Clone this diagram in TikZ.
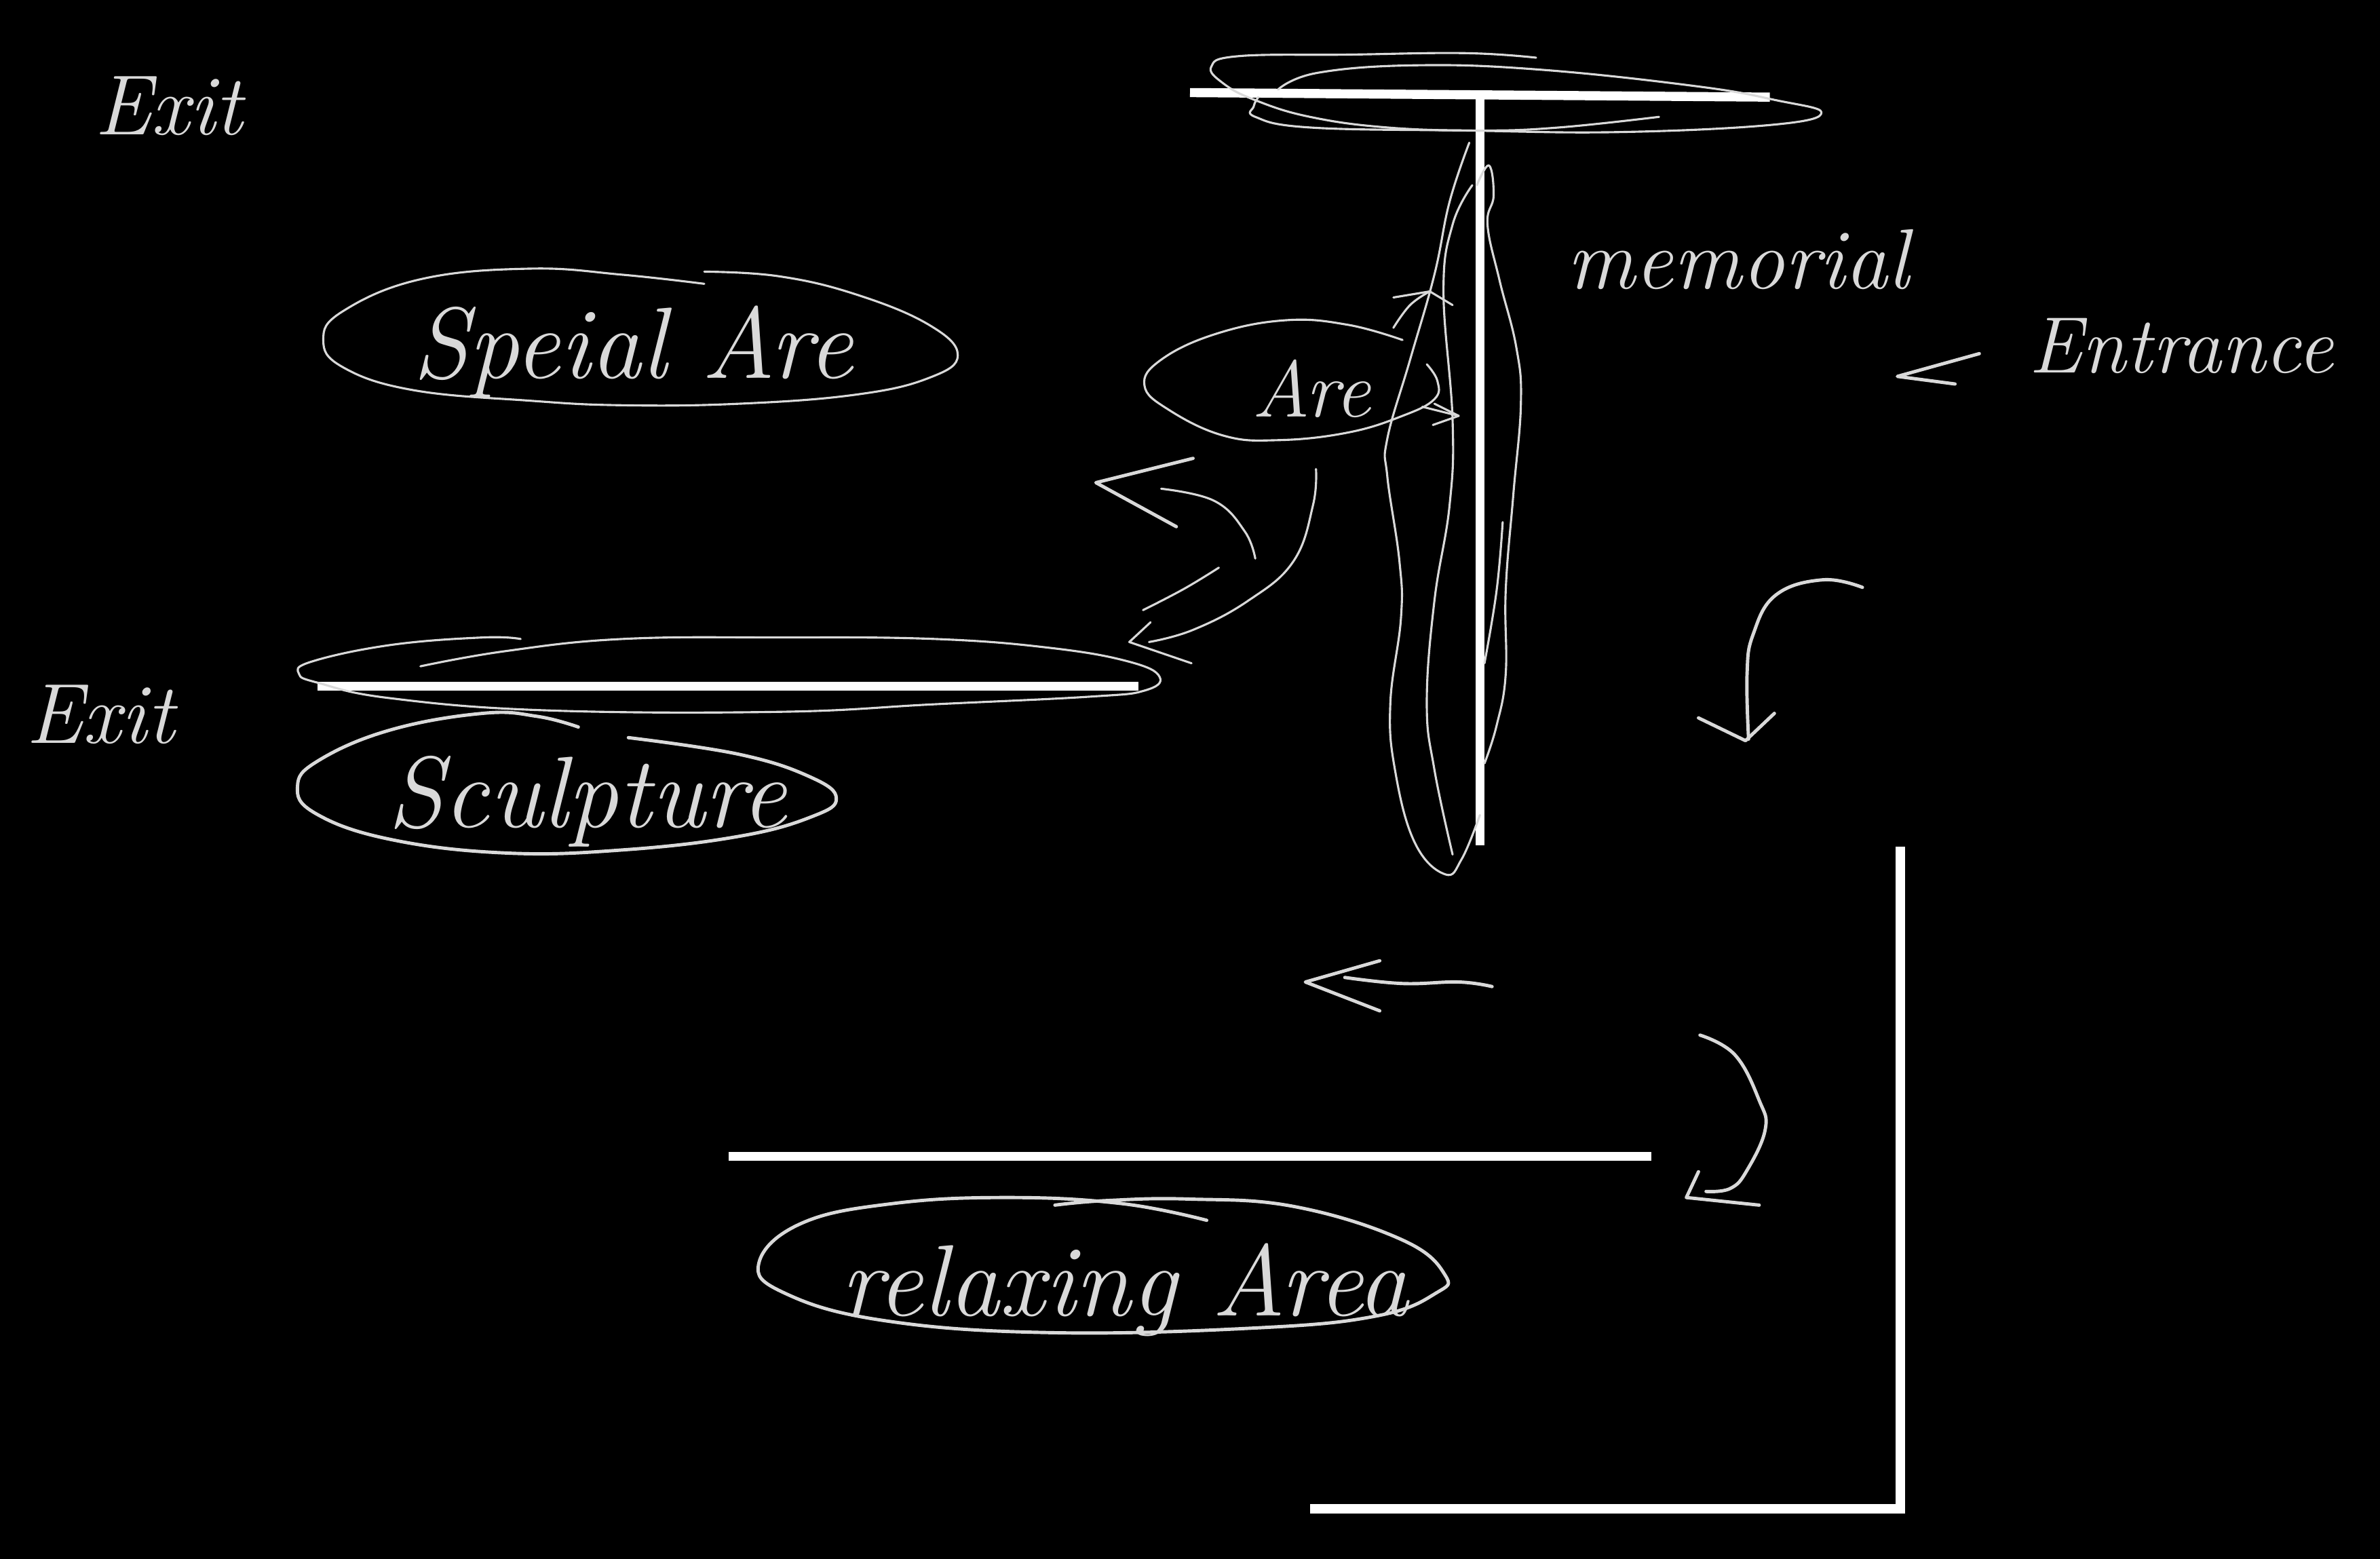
\documentclass[tikz,border=0pt]{standalone}
\usepackage{amsmath}

\begin{document}
\begin{tikzpicture}[
  x=0.1mm, y=-0.1mm,
  wall/.style={draw=white, line width=0.6mm},
  pen/.style={draw=black!15, line width=0.14mm, line cap=round, line join=round},
  heavypen/.style={pen, line width=0.22mm},
  hand/.style={text=black!15, inner sep=0pt, font=\itshape\fontsize{#1}{#1}\selectfont},
  smooth/.append style={tension=0.7}
]

\useasboundingbox (0,0) rectangle (1568,1027);
\fill[black] (0,0) rectangle (1568,1027);

% walls
\draw[wall] (784,61) -- (1166,64);
\draw[wall] (975,64) -- (975,557);
\draw[wall] (209,452) -- (750,452);
\draw[wall] (480,762) -- (1088,762);
\draw[wall] (1252,558) -- (1252,994) -- (863,994);

% labels
\node[hand=16] (exittop) at (111,70) {Exit};
\node[hand=16] (exitleft) at (66,471) {Exit};
\node[hand=19] (special) at (417,232) {Speial Are};
\node[hand=15] (are) at (864,256) {Are};
\node[hand=16] (memorial) at (1145,171) {memorial};
\node[hand=15] (entrance) at (1437,228) {Entrance};
\node[hand=19] (sculpture) at (387,528) {Sculpture};
\node[hand=19] (relaxing) at (741,850) {relaxing Area};

% top wall outline
\draw[pen] plot[smooth] coordinates {(1012,38) (965,35) (888,36) (816,37) (798,44) (806,55) (827,66) (863,77) (914,84) (975,86) (1027,84) (1093,77)};
\draw[pen] plot[smooth] coordinates {(842,59) (868,48) (934,43) (1016,46) (1119,57) (1170,66) (1200,74) (1170,82) (1068,87) (965,86) (863,84) (827,77) (826,70) (829,64)};

% long wall outline
\draw[pen] plot[smooth] coordinates {(968,94) (955,133) (945,181) (929,237) (914,289) (914,314) (922,370) (923,407) (916,463) (919,507) (932,555) (952,576) (963,566) (975,537)};
\draw[pen] plot[smooth] coordinates {(970,122) (957,148) (951,192) (957,277) (955,333) (945,396) (940,463) (945,507) (957,563)};
\draw[pen] plot[smooth] coordinates {(973,122) (981,109) (984,129) (980,148) (988,185) (999,229) (1002,266) (997,326) (992,389) (992,444) (986,478) (978,503)};
\draw[pen] plot[smooth] coordinates {(990,344) (986,389) (978,437)};

% left wall outline
\draw[pen] plot[smooth] coordinates {(343,421) (318,420) (257,425) (205,436) (197,444) (210,450) (257,460) (359,468) (513,469) (616,464) (718,459) (754,455) (764,446) (744,436) (693,427) (616,421) (513,420) (410,421) (333,429) (277,439)};

% area rings
\draw[pen] plot[smooth] coordinates {(464,187) (410,181) (349,177) (277,184) (226,205) (213,224) (226,242) (272,257) (349,264) (410,267) (487,266) (564,260) (612,249) (631,234) (612,214) (564,194) (513,182) (464,179)};
\draw[pen] plot[smooth] coordinates {(924,224) (888,214) (847,211) (801,220) (765,237) (754,254) (770,270) (806,287) (842,290) (888,285) (924,274) (945,263) (947,251) (940,240)};
\draw[heavypen] plot[smooth] coordinates {(381,479) (354,472) (318,470) (257,481) (210,501) (196,518) (208,536) (257,553) (333,562) (410,560) (487,551) (535,538) (551,526) (534,512) (487,497) (414,486)};
\draw[heavypen] plot[smooth] coordinates {(795,804) (739,793) (664,789) (588,793) (528,806) (500,832) (517,852) (582,870) (691,878) (826,875) (907,867) (946,852) (952,840) (924,817) (853,795) (783,790) (729,791) (695,794)};

% small arrows at the area
\draw[pen] plot[smooth] coordinates {(918,216) (929,201) (942,192)};
\draw[pen] (918,196) -- (942,192) -- (957,201);
\draw[pen] (937,268) -- (961,274);
\draw[pen] (945,266) -- (961,274) -- (944,280);

% route arrows
\draw[heavypen] (1304,233) -- (1250,248) -- (1288,253);
\draw[heavypen] plot[smooth] coordinates {(1227,387) (1201,382) (1170,392) (1155,418) (1151,444) (1152,487)};
\draw[heavypen] (1119,473) -- (1150,488) -- (1169,470);
\draw[heavypen] plot[smooth] coordinates {(1120,682) (1143,695) (1159,725) (1163,744) (1151,771) (1140,783) (1124,785)};
\draw[heavypen] (1119,772) -- (1111,789) -- (1159,794);
\draw[heavypen] plot[smooth] coordinates {(983,650) (961,647) (924,648) (886,644)};
\draw[heavypen] (909,633) -- (860,647) -- (909,666);
\draw[heavypen] (786,302) -- (722,318) -- (775,347);
\draw[pen] plot[smooth] coordinates {(765,322) (800,330) (820,350) (827,368)};
\draw[pen] plot[smooth] coordinates {(753,402) (780,388) (803,374)};
\draw[pen] plot[smooth] coordinates {(867,309) (865,333) (852,370) (822,396) (786,415) (757,423)};
\draw[pen] (758,410) -- (744,423) -- (785,437);

\end{tikzpicture}
\end{document}
